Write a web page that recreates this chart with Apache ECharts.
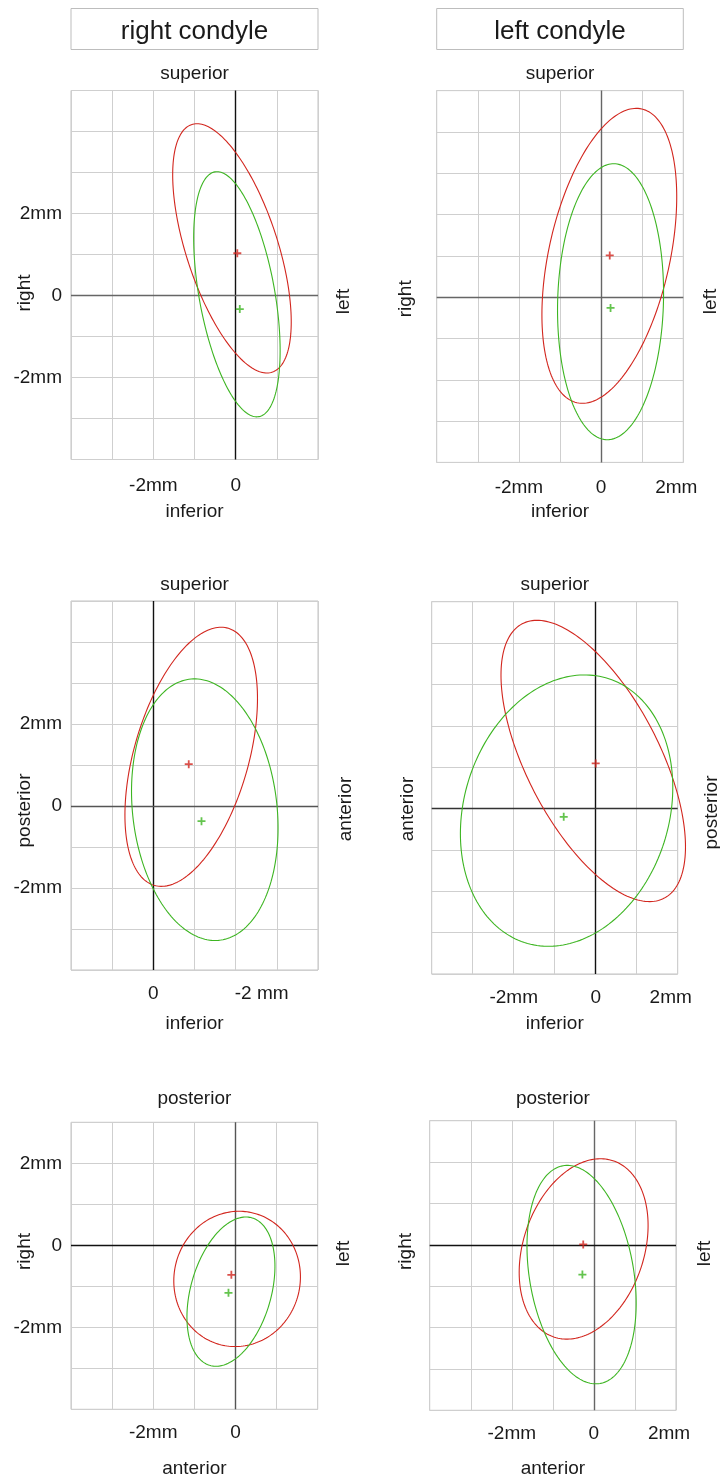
<!DOCTYPE html>
<html>
<head>
<meta charset="utf-8">
<script src="https://cdn.jsdelivr.net/npm/echarts@6/dist/echarts.min.js"></script>
<style>
html,body{margin:0;padding:0;background:#ffffff;}
#chart{width:720px;height:1477px;}
</style>
</head>
<body>
<div id="chart"></div>
<script>
// ---------------- DATA ----------------
const panelTitles = ['right condyle', 'left condyle'];

const topLabels    = ['superior', 'superior', 'superior', 'superior', 'posterior', 'posterior'];
const bottomLabels = ['inferior', 'inferior', 'inferior', 'inferior', 'anterior', 'anterior'];
const leftLabels   = ['right', 'right', 'posterior', 'anterior', 'right', 'right'];
const rightLabels  = ['left', 'left', 'anterior', 'posterior', 'left', 'left'];

const xRanges = [[-4, 2], [-4, 2], [-4, 2], [-4, 2], [-4, 2], [-4, 2]];
const yRanges = [[-4, 5], [-4, 5], [-4, 5], [-4, 5], [-4, 3], [-4, 3]];
const xInverse = [false, false, true, false, false, false];

const xTicks = [
  [[-2, '-2mm'], [0, '0']],
  [[-2, '-2mm'], [0, '0'], [2, '2mm']],
  [[0, '0'], [-2, '-2 mm']],
  [[-2, '-2mm'], [0, '0'], [2, '2mm']],
  [[-2, '-2mm'], [0, '0']],
  [[-2, '-2mm'], [0, '0'], [2, '2mm']]
];
const yTicks = [
  [[2, '2mm'], [0, '0'], [-2, '-2mm']],
  [],
  [[2, '2mm'], [0, '0'], [-2, '-2mm']],
  [],
  [[2, '2mm'], [0, '0'], [-2, '-2mm']],
  []
];

// ellipses: [centerX, centerY, sdX, sdY, correlation] in mm
const redEllipses = [
  [-0.09, 1.15, 1.44, 3.04, -0.59],
  [0.20, 1.00, 1.64, 3.57, 0.40],
  [-0.92, 1.20, 1.61, 3.16, -0.45],
  [-0.06, 1.15, 2.25, 3.40, -0.61],
  [0.04, -0.82, 1.54, 1.65, 0.03],
  [-0.25, -0.10, 1.57, 2.18, 0.26]
];
const greenEllipses = [
  [0.03, 0.03, 1.05, 2.99, -0.46],
  [0.23, -0.11, 1.29, 3.34, 0.06],
  [-1.25, -0.09, 1.78, 3.19, 0.14],
  [-0.71, -0.05, 2.59, 3.28, 0.17],
  [-0.11, -1.13, 1.07, 1.82, 0.34],
  [-0.30, -0.72, 1.33, 2.64, -0.26]
];
// mean positions (+ markers) in mm
const redMeans = [[0.04, 1.03], [0.21, 1.01], [-0.86, 1.02], [0.00, 1.09], [-0.10, -0.72], [-0.26, 0.01]];
const greenMeans = [[0.10, -0.33], [0.23, -0.26], [-1.17, -0.37], [-0.78, -0.20], [-0.17, -1.16], [-0.28, -0.72]];

// ---------------- LAYOUT / STYLE ----------------
const FONT = '"Liberation Sans", Arial, Helvetica, sans-serif';
const RED = '#d2261e';
const GREEN = '#3db522';
const TEXT = '#1a1a1a';

const gridRects = [
  {left: 71, top: 90.5, width: 247, height: 369},
  {left: 436.7, top: 90.6, width: 246.6, height: 371.8},
  {left: 71, top: 601, width: 247, height: 369},
  {left: 431.7, top: 601.7, width: 246, height: 372.3},
  {left: 71, top: 1122.3, width: 246.7, height: 287},
  {left: 429.7, top: 1120.7, width: 246.3, height: 289.6}
];
const xLabelMargin = [17, 16, 14, 14, 14, 14];
const topLabelY = [74, 74, 584.5, 584.5, 1099, 1099];
const bottomLabelY = [512, 512, 1023.5, 1023.5, 1468.5, 1468.5];
const leftLabelPos = [[24.5, 293], [406, 298.8], [25, 810.5], [408, 809], [25, 1251.5], [406, 1251.5]];
const rightLabelPos = [[344, 301.5], [711, 301.5], [346, 809], [711.5, 812.5], [344, 1253.5], [705, 1253.5]];
const zeroColors = [
  ['#111', '#666'], ['#666', '#666'], ['#111', '#555'],
  ['#111', '#333'], ['#555', '#111'], ['#666', '#111']
]; // [vertical, horizontal]
// label nudges: 'p' shifts right, 'q' shifts left
const xNudge = [{}, {'2': 'q'}, {'-2': 'p'}, {'2': 'q'}, {}, {'2': 'q'}];

const chart = echarts.init(document.getElementById('chart'), null, {renderer: 'canvas'});

function makeFormatter(ticks, nudge) {
  const map = {};
  ticks.forEach(t => { map[String(t[0])] = t[1]; });
  return function (v) {
    const key = String(Math.round(v * 1000) / 1000);
    const s = map[key];
    if (s === undefined) return '';
    if (nudge && nudge[key]) return '{' + nudge[key] + '|' + s + '}';
    return s;
  };
}

function renderEllipse(params, api) {
  const cx = api.value(0), cy = api.value(1), sx = api.value(2), sy = api.value(3), r = api.value(4);
  const k = Math.sqrt(1 - r * r);
  const pts = [];
  const N = 200;
  for (let i = 0; i < N; i++) {
    const t = i / N * Math.PI * 2;
    const x = cx + sx * Math.cos(t);
    const y = cy + sy * (r * Math.cos(t) + k * Math.sin(t));
    pts.push(api.coord([x, y]));
  }
  return {
    type: 'polygon',
    shape: {points: pts},
    style: {fill: 'none', stroke: api.visual('color'), lineWidth: 1.1}
  };
}

const labelStyle = {fontFamily: FONT, fontSize: 19, color: TEXT};
const rich = {
  p: {fontFamily: FONT, fontSize: 19, color: TEXT, padding: [0, 0, 0, 52]},
  q: {fontFamily: FONT, fontSize: 19, color: TEXT, padding: [0, 14, 0, 0]}
};

const grids = [], xAxes = [], yAxes = [], series = [], graphics = [];

for (let i = 0; i < 6; i++) {
  const g = gridRects[i];
  grids.push({
    left: g.left, top: g.top, width: g.width, height: g.height,
    show: true, borderColor: '#c2c2c2', borderWidth: 1, backgroundColor: '#fff',
    containLabel: false, outerBoundsMode: 'none'
  });
  xAxes.push({
    gridIndex: i, type: 'value', min: xRanges[i][0], max: xRanges[i][1], interval: 1,
    inverse: xInverse[i],
    axisLine: {show: false}, axisTick: {show: false},
    splitLine: {show: true, lineStyle: {color: '#cfcfcf', width: 1}},
    axisLabel: Object.assign({}, labelStyle, {
      margin: xLabelMargin[i], showMinLabel: true, showMaxLabel: true,
      formatter: makeFormatter(xTicks[i], xNudge[i]), rich: rich
    })
  });
  yAxes.push({
    gridIndex: i, type: 'value', min: yRanges[i][0], max: yRanges[i][1], interval: 1,
    axisLine: {show: false}, axisTick: {show: false},
    splitLine: {show: true, lineStyle: {color: '#cfcfcf', width: 1}},
    axisLabel: Object.assign({}, labelStyle, {
      margin: 9, padding: [3, 0, 0, 0], show: yTicks[i].length > 0, showMinLabel: true, showMaxLabel: true,
      formatter: makeFormatter(yTicks[i], null)
    })
  });
  // zero lines
  series.push({
    type: 'scatter', xAxisIndex: i, yAxisIndex: i, data: [], silent: true, z: 1,
    markLine: {
      silent: true, symbol: ['none', 'none'], z: 1, animation: false,
      label: {show: false},
      data: [
        {xAxis: 0, lineStyle: {color: zeroColors[i][0], width: 1.4, type: 'solid'}},
        {yAxis: 0, lineStyle: {color: zeroColors[i][1], width: 1.4, type: 'solid'}}
      ]
    }
  });
  // ellipses
  series.push({
    type: 'custom', xAxisIndex: i, yAxisIndex: i, z: 3, silent: true,
    itemStyle: {color: RED}, encode: {x: 0, y: 1},
    renderItem: renderEllipse, data: [redEllipses[i]]
  });
  series.push({
    type: 'custom', xAxisIndex: i, yAxisIndex: i, z: 3, silent: true,
    itemStyle: {color: GREEN}, encode: {x: 0, y: 1},
    renderItem: renderEllipse, data: [greenEllipses[i]]
  });
  // means
  const plus = 'path://M0,3.1H8V4.9H0ZM3.1,0H4.9V8H3.1Z';
  series.push({
    type: 'scatter', xAxisIndex: i, yAxisIndex: i, z: 4, silent: true,
    symbol: plus, symbolSize: 8, itemStyle: {color: RED}, data: [redMeans[i]]
  });
  series.push({
    type: 'scatter', xAxisIndex: i, yAxisIndex: i, z: 4, silent: true,
    symbol: plus, symbolSize: 8, itemStyle: {color: GREEN}, data: [greenMeans[i]]
  });

  // direction labels
  const cx = g.left + g.width / 2;
  const txt = (text, x, y, rot) => ({
    type: 'text', x: x, y: y, rotation: rot || 0, silent: true,
    style: {text: text, font: '19px ' + FONT, fill: TEXT, align: 'center', verticalAlign: 'middle'}
  });
  graphics.push(txt(topLabels[i], cx, topLabelY[i]));
  graphics.push(txt(bottomLabels[i], cx, bottomLabelY[i]));
  graphics.push(txt(leftLabels[i], leftLabelPos[i][0], leftLabelPos[i][1], Math.PI / 2));
  graphics.push(txt(rightLabels[i], rightLabelPos[i][0], rightLabelPos[i][1], Math.PI / 2));
}

// title boxes
[[71, 247], [436.7, 246.6]].forEach((b, j) => {
  graphics.push({
    type: 'rect', silent: true,
    shape: {x: b[0], y: 8.5, width: b[1], height: 41},
    style: {fill: '#fff', stroke: '#bdbdbd', lineWidth: 1}
  });
  graphics.push({
    type: 'text', silent: true, x: b[0] + b[1] / 2, y: 31.5,
    style: {text: panelTitles[j], font: '26px ' + FONT, fill: TEXT, align: 'center', verticalAlign: 'middle'}
  });
});

chart.setOption({
  animation: false,
  backgroundColor: '#ffffff',
  grid: grids,
  xAxis: xAxes,
  yAxis: yAxes,
  series: series,
  graphic: graphics
});
</script>
</body>
</html>
